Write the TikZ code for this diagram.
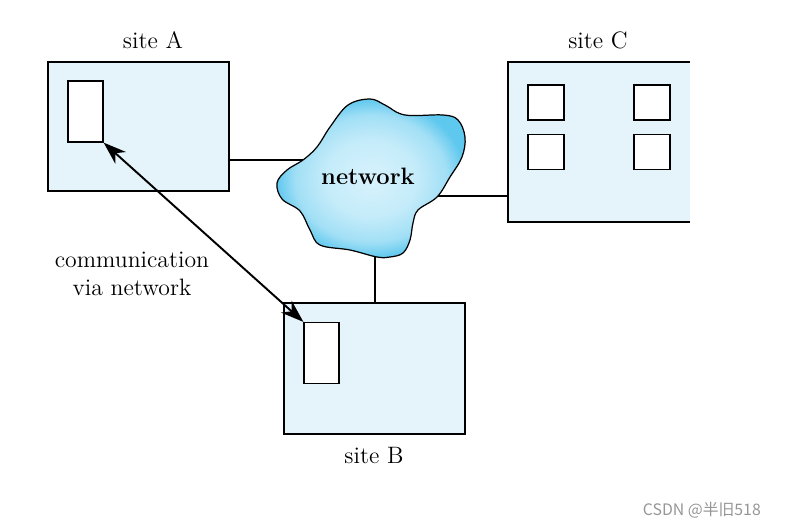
\documentclass[tikz,border=0pt]{standalone}
\usepackage{fontspec}
\newfontfamily\cjkfont{Noto Sans CJK SC}
\usepackage{tikz}
\usetikzlibrary{arrows.meta,positioning,calc,backgrounds}

\definecolor{sitefill}{RGB}{228,244,250}
\definecolor{cloudin}{RGB}{215,242,252}
\definecolor{cloudout}{RGB}{95,200,238}
\definecolor{markgray}{RGB}{150,150,150}

\pgfdeclareradialshading{cloudshade}{\pgfpoint{0bp}{0bp}}{%
    color(0bp)=(cloudin); color(12bp)=(cloudin!85!cloudout);
    color(20bp)=(cloudin!55!cloudout); color(25bp)=(cloudout); color(50bp)=(cloudout)}

\tikzset{
    site/.style={draw, fill=sitefill, line width=0.7pt, minimum width=3.62cm, inner sep=0pt},
    proc/.style={draw, fill=white, line width=0.7pt, minimum width=0.7cm, minimum height=1.22cm, inner sep=0pt},
    disk/.style={draw, fill=white, line width=0.7pt, minimum width=0.72cm, minimum height=0.7cm, inner sep=0pt},
    lbl/.style={font=\fontsize{13.5}{16}\selectfont, inner sep=0pt},
    link/.style={line width=0.7pt},
    comm/.style={line width=1.1pt, {Stealth[length=13pt,width=9pt,inset=4pt]}-{Stealth[length=13pt,width=9pt,inset=4pt]}}
}

\begin{document}
\begin{tikzpicture}[x={(0.02cm,0)}, y={(0,-0.02cm)}]
    \useasboundingbox (0,0) rectangle (789,525);

    % sites
    \node[site, minimum height=2.58cm] (siteA) at (138.5,126.5) {};
    \node[site, minimum height=2.62cm] (siteB) at (374.5,368.5) {};
    \fill[sitefill] (508,62) rectangle (690,222);
    \draw[link] (690,62) -- (508,62) -- (508,222) -- (690,222);
    \coordinate (siteC) at (508,196);

    % processes and disks
    \node[proc] (procA) at (85.5,111.5) {};
    \node[proc] (procB) at (321.5,353) {};
    \node[disk] (diskA) at (546,102.5) {};
    \node[disk] (diskB) at (652,102.5) {};
    \node[disk] (diskC) at (546,152) {};
    \node[disk] (diskD) at (652,152) {};

    % network cloud
    \coordinate (netW) at (305,160);
    \coordinate (netE) at (436,196);
    \coordinate (netS) at (375,256);
    \draw[link] (siteA.east |- netW) -- (netW);
    \draw[link] (netE) -- (siteC);
    \draw[link] (netS) -- (siteB.north -| netS);
    \draw[line width=0.7pt, shading=cloudshade]
        plot[smooth cycle, tension=0.6] coordinates {
            (303,160) (317,147) (330,127) (348,105) (370,99) (385,105)
            (405,115) (443,115) (458,120) (465,137) (462,157)
            (450,177) (437,197) (418,210) (413,223) (410,240) (403,253)
            (390,257) (377,257) (350,250) (320,245) (310,230) (300,211)
            (282,199) (277,183) (287,170)};
    \node[lbl, font=\fontsize{13.5}{16}\selectfont\bfseries] (net) at (368,176) {network};

    % labels
    \node[lbl] (labA) at (153,40) {site A};
    \node[lbl] (labC) at (598,40) {site C};
    \node[lbl] (labB) at (374,456) {site B};
    \node[lbl, align=center] (labComm) at (132,274) {communication\\via network};

    % communication
    \draw[comm] (procA.south east) -- (procB.north west);

    \node[text=markgray, font=\cjkfont\fontsize{9}{10}\selectfont, anchor=east] (mark) at (767,510) {CSDN @半旧518};
\end{tikzpicture}
\end{document}
